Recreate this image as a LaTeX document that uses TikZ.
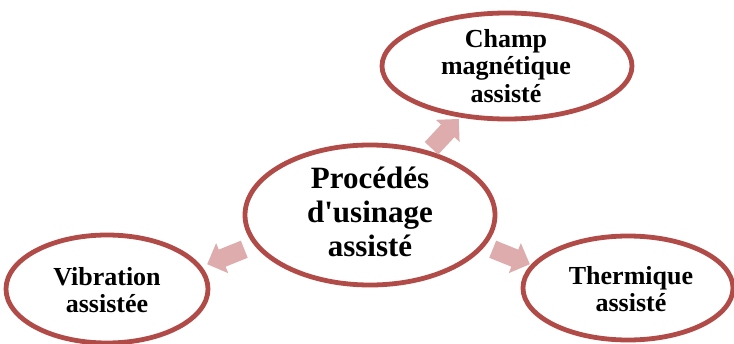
\documentclass[tikz,border=0pt]{standalone}
\usepackage{fontspec}
\setmainfont{Liberation Serif}
\usetikzlibrary{shapes.geometric,shapes.arrows}
\definecolor{ringred}{RGB}{176,75,72}
\definecolor{arrowpink}{RGB}{222,172,172}
\begin{document}
\begin{tikzpicture}[x=1pt,y=-1pt,
  ring/.style={ellipse,draw=ringred,line width=4.8pt,fill=white,inner sep=0pt},
  bigtxt/.style={align=center,font=\fontsize{31}{34}\selectfont\bfseries,inner sep=0pt},
  smalltxt/.style={align=center,font=\fontsize{26}{27.5}\selectfont\bfseries,inner sep=0pt},
  blockarrow/.style={single arrow,fill=arrowpink,draw=none,inner sep=9pt,
    minimum height=40pt,single arrow head extend=7pt}]
\useasboundingbox (0,0) rectangle (734,343);
\node[ring,minimum width=250pt,minimum height=140pt] (c) at (370,215) {};
\node[ring,minimum width=250pt,minimum height=106pt] (t) at (507,66) {};
\node[ring,minimum width=202pt,minimum height=108pt] (l) at (107,289) {};
\node[ring,minimum width=210pt,minimum height=104pt] (r) at (628,288) {};
\node[bigtxt] (ct) at (370,212) {Procédés\\d\textquotesingle usinage\\assisté};
\node[smalltxt] (tt) at (506,66) {Champ\\magnétique\\assisté};
\node[smalltxt] (lt) at (107,290) {Vibration\\assistée};
\node[smalltxt] (rt) at (631,289) {Thermique\\assisté};
\node[blockarrow,rotate=47] (a1) at (442,137) {};
\node[blockarrow,rotate=202] (a2) at (230,255) {};
\node[blockarrow,rotate=-22] (a3) at (507,255) {};
\end{tikzpicture}
\end{document}
